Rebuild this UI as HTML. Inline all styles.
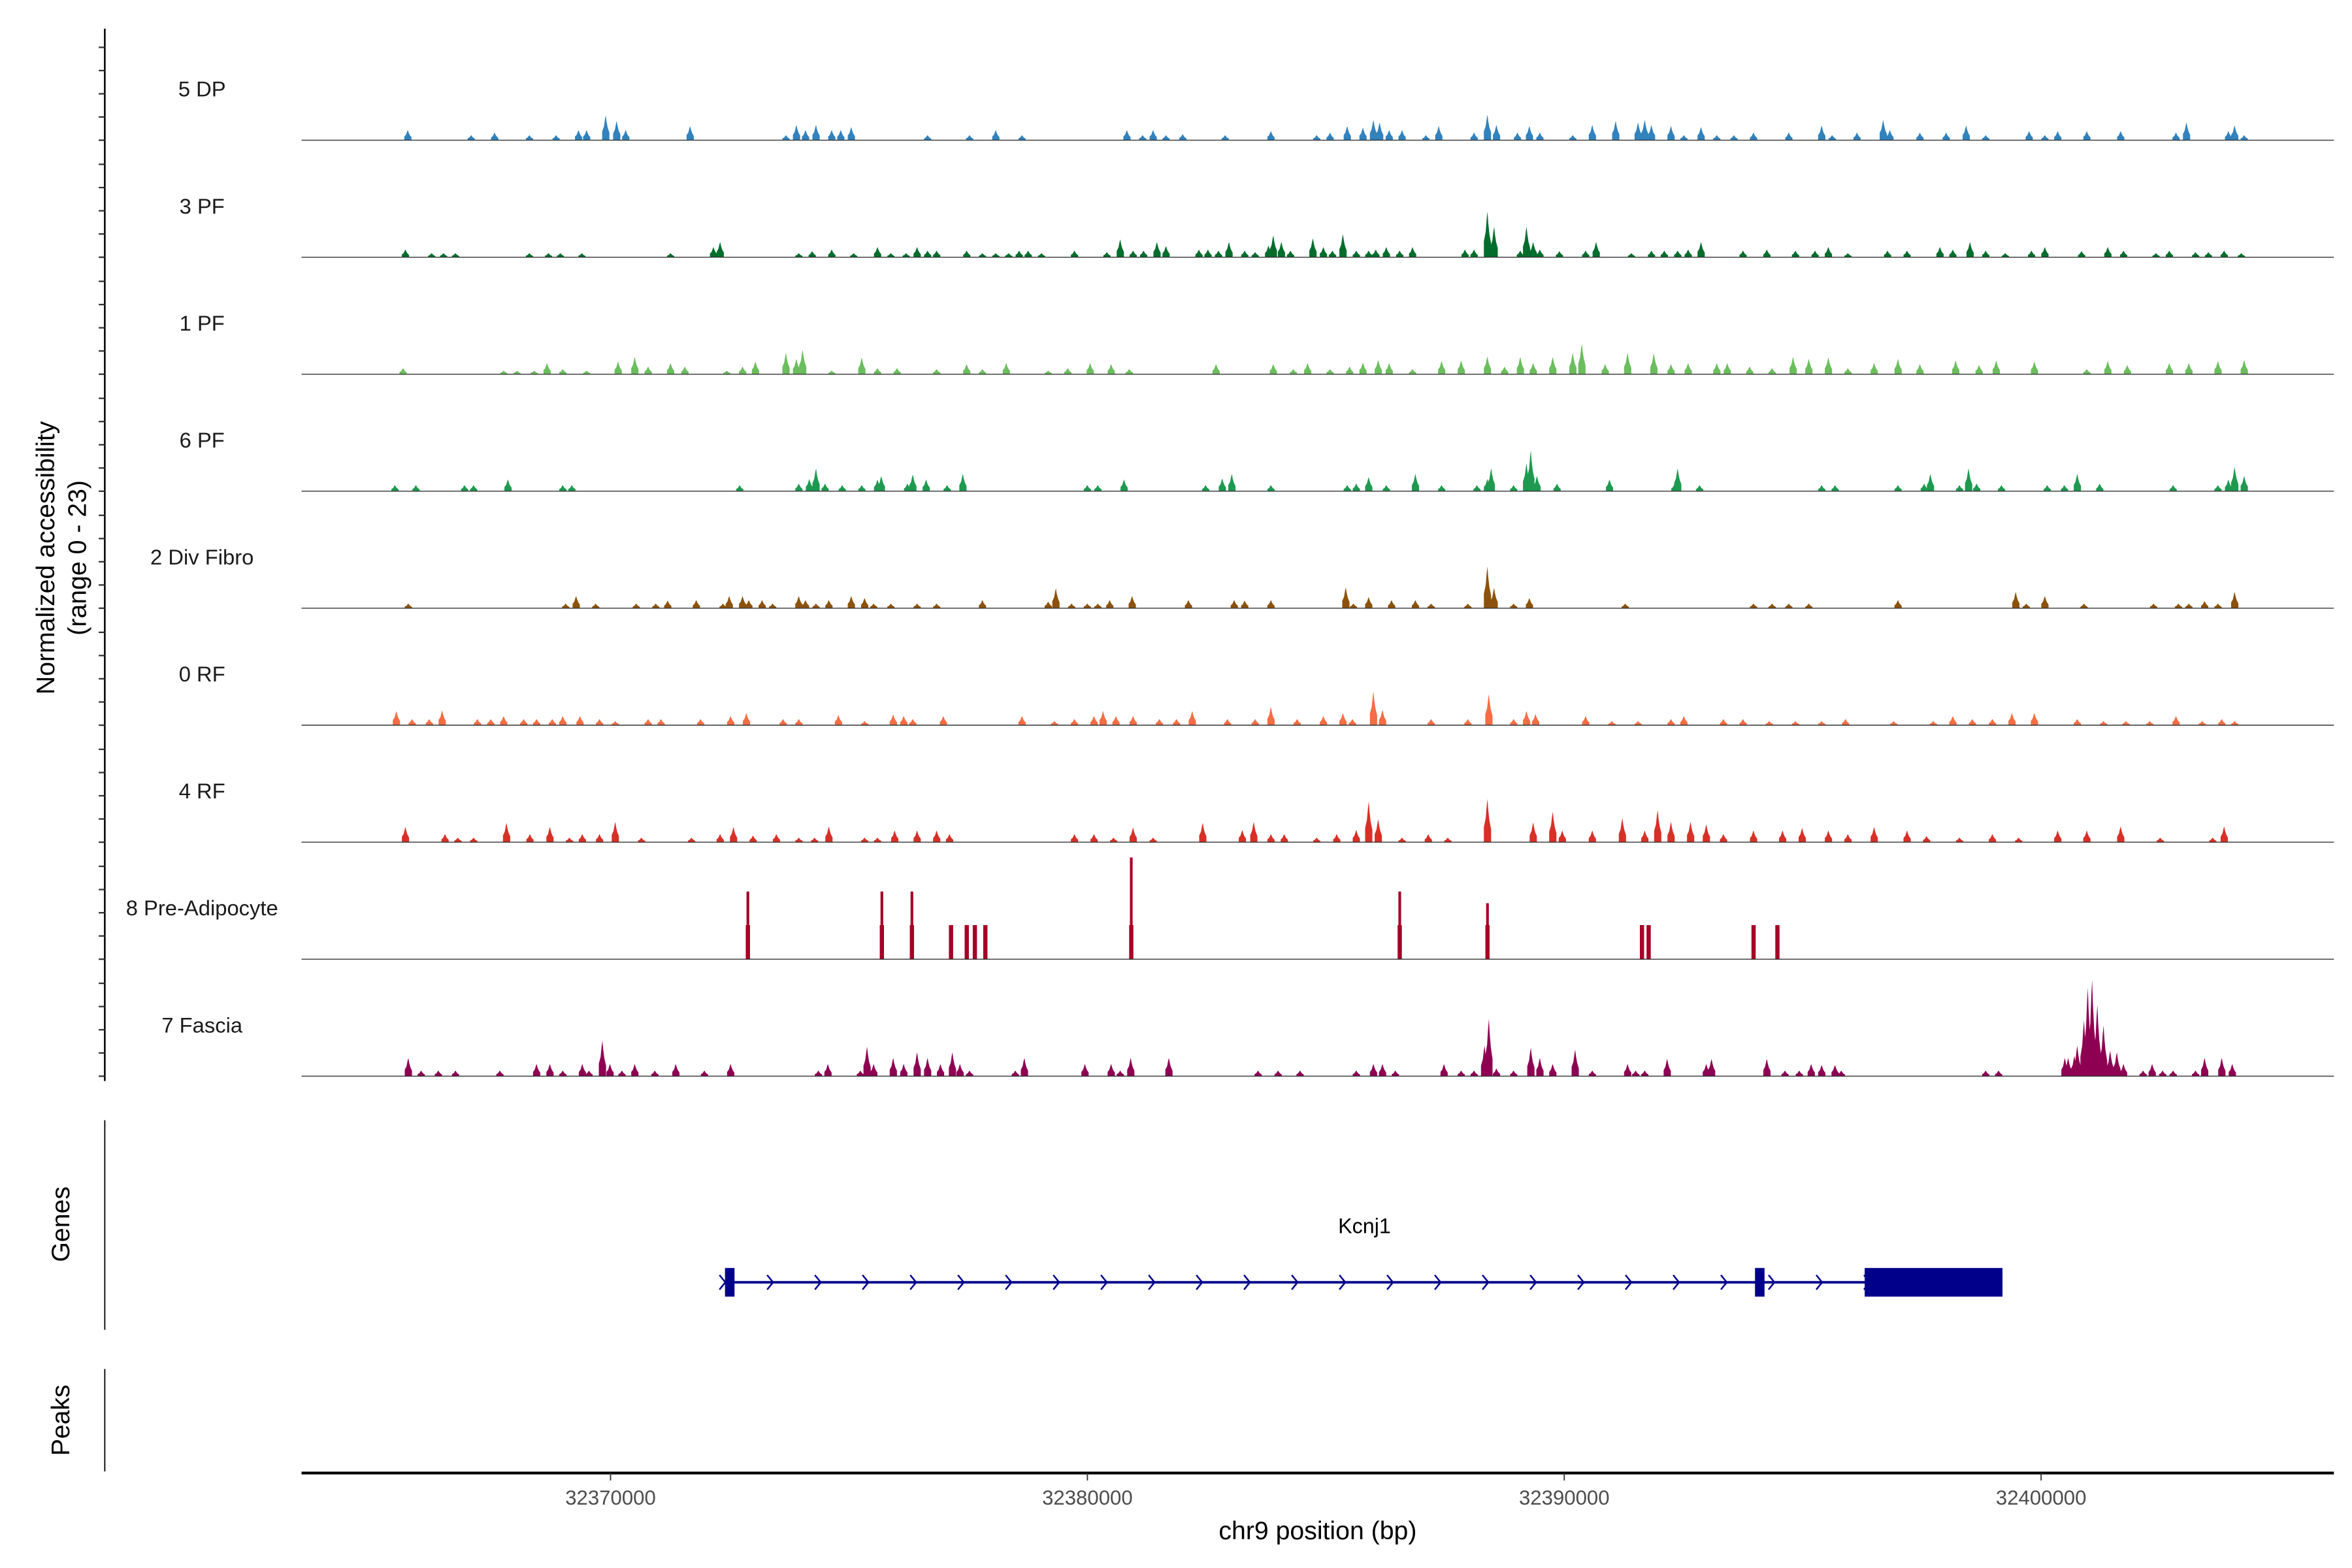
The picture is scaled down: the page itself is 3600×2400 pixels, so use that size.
<!DOCTYPE html>
<html><head><meta charset="utf-8"><style>
html,body{margin:0;padding:0;background:#fff;}
svg{display:block;}
text{font-family:"Liberation Sans",Arial,sans-serif;}
</style></head><body>
<svg id="chart" width="3600" height="2400" viewBox="0 0 1560 1040" xmlns="http://www.w3.org/2000/svg">
<g id="tracks"></g>
<g id="axes"></g>
<g id="genes"></g>
</svg>
<script>
// genomic positions in kb offset from 32360000, heights in normalized units (0-23)
const trackNames = ["5 DP","3 PF","1 PF","6 PF","2 Div Fibro","0 RF","4 RF","8 Pre-Adipocyte","7 Fascia"];
const trackColors = ["#3182bd","#006d2c","#6bbd5d","#1f9950","#8c510a","#f46d43","#d73027","#a50026","#8e0152"];
const xTicks = [32370000,32380000,32390000,32400000];
const xTickLabels = ["32370000","32380000","32390000","32400000"];
const geneStart = 12.47, geneEnd = 39.19;
const geneExons = [[12.4,12.6],[34.0,34.2],[36.3,39.19]];
const geneName = "Kcnj1";

const dp5 = [[5.75,2],[7.08,1],[7.57,1.5],[8.3,1],[8.86,1],[9.33,2],[9.5,2],[9.9,4.9],[10.13,3.8],[10.32,2],[11.67,2.8],[13.68,1],[13.9,3],[14.09,2],[14.31,3],[14.64,2],[14.83,2],[15.05,2.6],[16.65,1],[17.53,1],[18.08,2],[18.63,1],[20.83,2],[21.16,1],[21.38,2],[21.65,1],[22.0,1.2],[22.89,1],[23.85,1.8],[24.81,1],[25.09,1.5],[25.45,2.8],[25.78,2.5],[26.0,4],[26.13,3.5],[26.33,2],[26.6,2],[27.1,1],[27.37,2.8],[28.11,1.5],[28.39,5],[28.58,3],[29.02,1.5],[29.27,2.8],[29.49,1.5],[30.18,1],[30.59,3],[31.08,3.8],[31.55,3.5],[31.69,4],[31.83,3],[32.24,2.8],[32.51,1],[32.87,2.6],[33.2,1],[33.56,1],[33.97,1.5],[34.71,1.5],[35.4,2.9],[35.62,1],[36.14,1.5],[36.69,4],[36.83,2],[37.46,1.5],[38.01,1.5],[38.43,2.9],[38.84,1],[39.75,1.8],[40.08,1],[40.35,1.8],[40.96,1.8],[41.67,1.8],[42.83,1.5],[43.05,3.5],[43.93,1.8],[44.06,2.9],[44.26,1]];
const pf3 = [[5.7,1.5],[6.25,0.8],[6.5,0.8],[6.75,0.8],[8.3,0.8],[8.7,0.8],[8.95,0.8],[9.4,0.8],[11.26,0.8],[12.16,2],[12.3,3],[13.95,0.8],[14.23,1.2],[14.64,1.5],[15.1,0.8],[15.6,2],[15.88,0.8],[16.2,0.8],[16.43,2],[16.65,1.3],[16.84,1.3],[17.47,1.3],[17.8,0.8],[18.08,0.8],[18.35,0.8],[18.57,1.3],[18.76,1.3],[19.04,0.8],[19.73,1.3],[20.41,1],[20.69,3.5],[20.96,1.3],[21.18,1.3],[21.46,3],[21.65,2.2],[22.34,1.5],[22.53,1.5],[22.75,1.3],[22.97,3],[23.3,1.3],[23.52,1],[23.8,2.3],[23.9,4.3],[24.07,3],[24.26,1.3],[24.73,3.7],[24.95,2],[25.14,1.3],[25.36,4.5],[25.64,1.3],[25.9,1.3],[26.05,1.5],[26.27,2],[26.55,1.3],[26.82,2],[27.92,1.5],[28.11,1.5],[28.39,9],[28.53,6],[29.08,1.3],[29.21,6],[29.35,3],[29.49,1.5],[29.9,1.2],[30.45,1.3],[30.67,3],[31.41,0.8],[31.83,1.3],[32.1,1.3],[32.38,1.3],[32.6,1.5],[32.87,3],[33.75,1.3],[34.25,1.5],[34.85,1.3],[35.26,1.3],[35.54,2],[35.95,0.8],[36.78,1.3],[37.19,1.3],[37.88,2],[38.15,1.5],[38.51,3],[38.84,1.3],[39.25,0.8],[39.8,1.3],[40.08,2],[40.85,1.2],[41.4,2],[41.73,1.3],[42.41,0.8],[42.69,1.3],[43.24,1],[43.51,1],[43.84,1.3],[44.2,0.8]];
const pf1 = [[5.65,1.2],[7.76,0.7],[8.04,0.7],[8.4,0.7],[8.67,2.2],[9.0,1],[9.5,0.7],[10.16,2.5],[10.51,3.4],[10.79,1.5],[11.26,2.2],[11.56,1.5],[12.44,0.7],[12.77,1.5],[13.04,2.5],[13.68,4.2],[13.9,3],[14.03,4.8],[14.64,0.7],[15.27,3.3],[15.6,1.2],[16.01,1.2],[16.84,1],[17.47,2],[17.8,1],[18.3,2.2],[19.18,0.7],[19.59,1.2],[20.06,2.2],[20.5,2],[20.88,1],[22.7,2],[23.9,2],[24.32,1],[24.62,2.2],[25.09,1],[25.5,1.5],[25.78,2.3],[26.1,2.8],[26.33,2.2],[26.82,1],[27.43,2.6],[27.84,2.7],[28.39,3.5],[28.75,1.5],[29.08,3.4],[29.35,2.2],[29.76,3.4],[30.18,4.2],[30.37,6],[30.86,2],[31.33,4.2],[31.88,4.1],[32.24,2],[32.6,2.2],[33.2,2.2],[33.42,2.2],[33.89,1.5],[34.36,1.2],[34.8,3.4],[35.13,3],[35.54,3.3],[35.95,1.2],[36.5,2.2],[37.0,3],[37.46,2],[38.21,2.7],[38.7,1.8],[39.06,2.7],[39.86,2.5],[40.96,1],[41.4,2.6],[41.81,1.8],[42.69,2.2],[43.1,2.2],[43.71,2.6],[44.26,2.8]];
const pf6 = [[5.48,1.2],[5.92,1.2],[6.94,1.2],[7.13,1.2],[7.85,2.3],[9.0,1.2],[9.19,1.2],[12.71,1.2],[13.95,1.5],[14.17,2.4],[14.31,4.5],[14.5,1.5],[14.86,1.2],[15.27,1.2],[15.6,2.3],[15.68,3],[16.23,1.5],[16.34,3.3],[16.62,2.3],[17.06,1.2],[17.39,3.4],[20.0,1.2],[20.22,1.2],[20.77,2.3],[22.48,1.2],[22.83,2.5],[23.03,3.4],[23.85,1.2],[25.45,1.2],[25.64,1.5],[25.9,2.8],[26.27,1.2],[26.88,3.4],[27.43,1.2],[28.17,1.2],[28.39,2.4],[28.47,4.5],[28.94,1.2],[29.21,5.5],[29.3,8],[29.43,3],[29.85,1.5],[30.95,2.3],[32.32,1.5],[32.38,4.5],[32.84,1.2],[35.4,1.2],[35.68,1.2],[37.0,1.2],[37.55,1.5],[37.68,3.4],[38.29,1.2],[38.48,4.5],[38.65,1.5],[39.17,1.2],[40.13,1.2],[40.49,1.2],[40.76,3.4],[41.23,1.5],[42.77,1.2],[43.71,1.2],[43.93,2.3],[44.06,4.8],[44.26,3]];
const divFibro2 = [[5.76,0.9],[9.06,0.9],[9.28,2.4],[9.69,0.9],[10.54,0.9],[10.95,0.9],[11.2,1.5],[11.8,1.6],[12.36,0.9],[12.49,2.4],[12.77,2.4],[12.9,1.6],[13.18,1.6],[13.4,0.9],[13.95,2.4],[14.09,1.6],[14.31,0.9],[14.58,1.6],[15.05,2.4],[15.33,2],[15.52,0.9],[15.88,0.9],[16.43,0.9],[16.84,0.9],[17.8,1.6],[19.18,1.3],[19.34,3.9],[19.67,0.9],[20.0,0.9],[20.22,0.9],[20.47,1.6],[20.94,2.4],[22.12,1.6],[23.08,1.6],[23.3,1.5],[23.85,1.6],[25.42,4.1],[25.58,0.9],[25.9,2.2],[26.38,1.6],[26.88,1.6],[27.21,0.9],[27.98,0.9],[28.39,8.2],[28.53,4],[28.94,0.9],[29.27,2],[31.28,0.9],[33.97,0.9],[34.36,0.9],[34.71,0.9],[35.13,0.9],[37.0,1.6],[39.47,3.2],[39.69,0.9],[40.08,2.4],[40.9,0.9],[42.36,0.9],[42.88,0.9],[43.1,0.9],[43.43,1.4],[43.71,0.9],[44.06,3.2]];
const rf0 = [[5.51,2.8],[5.84,1.2],[6.2,1.2],[6.47,2.9],[7.21,1.2],[7.49,1.2],[7.76,1.8],[8.18,1.2],[8.45,1.2],[8.78,1.2],[9.0,1.8],[9.36,1.8],[9.77,1.2],[10.1,0.8],[10.79,1.2],[11.06,1.2],[11.89,1.2],[12.52,1.8],[12.85,2.4],[13.62,1.2],[13.95,1.2],[14.78,2],[15.33,0.8],[15.93,2.1],[16.15,1.8],[16.34,1.2],[16.98,1.8],[18.63,1.8],[19.31,0.8],[19.73,1.2],[20.14,1.8],[20.33,2.8],[20.6,1.8],[20.96,1.8],[21.51,1.2],[21.87,1.2],[22.2,2.8],[22.94,1.2],[23.52,1.2],[23.85,3.6],[24.4,1.2],[24.95,1.8],[25.36,2.4],[25.56,1.2],[26.0,6.6],[26.19,3],[27.21,1.2],[27.98,1.2],[28.42,6.1],[28.94,1.2],[29.21,2.8],[29.4,2.2],[30.45,1.8],[31.0,0.8],[31.55,0.8],[32.24,1.2],[32.51,1.8],[33.34,1.2],[33.75,1.2],[34.3,0.8],[34.85,0.8],[35.4,0.8],[35.9,1.2],[36.91,0.8],[37.74,0.8],[38.15,1.8],[38.56,1.2],[38.98,1.2],[39.39,2.4],[39.86,2.4],[40.76,1.2],[41.31,0.8],[41.78,0.8],[42.28,0.8],[42.83,1.8],[43.38,0.8],[43.79,1.2],[44.06,0.8]];
const rf4 = [[5.7,3],[6.53,1.6],[6.8,0.9],[7.13,0.9],[7.82,3.8],[8.31,1.6],[8.73,3],[9.14,0.9],[9.41,1.6],[9.77,1.6],[10.1,4],[10.65,0.9],[11.7,0.9],[12.3,1.6],[12.58,3],[12.99,1.3],[13.48,1.6],[13.95,0.9],[14.28,0.9],[14.58,3.1],[15.33,0.9],[15.6,0.9],[15.96,2.3],[16.43,2.3],[16.84,2.3],[17.11,1.6],[19.73,1.6],[20.14,1.6],[20.55,0.9],[20.96,2.9],[21.38,0.9],[22.42,3.8],[23.25,2.4],[23.49,4],[23.85,1.6],[24.13,1.6],[24.81,0.9],[25.23,1.6],[25.64,2.4],[25.9,8],[26.1,4.5],[26.6,0.9],[27.15,1.6],[27.56,0.9],[28.39,8.5],[29.35,3.9],[29.76,6],[29.96,2.3],[30.59,2.3],[31.22,4.7],[31.69,2.3],[31.96,6.3],[32.24,4],[32.65,4],[32.98,3.5],[33.34,1.6],[33.97,2.3],[34.58,2.3],[34.99,2.8],[35.54,2.3],[35.95,1.6],[36.5,3],[37.19,2.3],[37.6,1.2],[38.29,0.9],[38.98,1.6],[39.53,0.9],[40.35,2.3],[40.96,2.3],[41.67,3.1],[42.5,0.9],[43.6,0.9],[43.84,3.1]];
// [kb, block height, spike height]
const preAdipo8 = [[12.88,6.7,13.3],[15.69,6.7,13.3],[16.32,6.7,13.3],[17.14,6.7,6.7],[17.47,6.7,6.7],[17.64,6.7,6.7],[17.86,6.7,6.7],[20.92,6.7,20],[26.55,6.7,13.3],[28.39,6.7,11],[31.63,6.7,6.7],[31.77,6.7,6.7],[33.97,6.7,6.7],[34.47,6.7,6.7]];
const fascia7 = [[5.76,3.6],[6.03,1.1],[6.39,1.1],[6.75,1.1],[7.68,1.1],[8.45,2.4],[8.73,2.4],[9.0,1.1],[9.41,2.4],[9.55,1.1],[9.83,7],[9.99,2.4],[10.24,1.1],[10.51,2.4],[10.93,1.1],[11.37,2.4],[11.97,1.1],[12.52,2.4],[14.36,1.1],[14.56,2.4],[15.24,1.1],[15.38,5.8],[15.52,2.4],[15.93,3.6],[16.15,2.4],[16.43,4.7],[16.65,3.6],[16.92,2.4],[17.17,4.7],[17.33,2.4],[17.53,1.1],[18.49,1.1],[18.68,3.6],[19.95,2.4],[20.5,2.4],[20.69,1.1],[20.91,3.6],[21.71,3.6],[23.58,1.1],[24.0,1.1],[24.46,1.1],[25.64,1.1],[26.0,2.4],[26.19,2.4],[26.46,1.1],[27.48,2.4],[27.84,1.1],[28.11,1.1],[28.33,6],[28.42,11.3],[28.58,1.5],[28.94,1.1],[29.3,5.6],[29.49,3.6],[29.76,2.4],[30.23,5.2],[30.59,1.1],[31.33,2.4],[31.5,1.1],[31.69,1.1],[32.16,3.4],[32.98,2.4],[33.09,3.4],[34.25,3.4],[34.63,1.1],[34.93,1.1],[35.18,2.4],[35.4,2.2],[35.68,2.2],[35.81,1.1],[38.84,1.1],[39.11,1.1],[40.5,3.6],[40.57,3.6],[40.7,4],[40.76,6],[40.9,11],[40.98,17.4],[41.07,19],[41.18,14],[41.31,10],[41.45,5],[41.59,4.7],[41.73,2.4],[42.14,1.1],[42.33,2.4],[42.55,1.1],[42.77,1.1],[43.24,1.1],[43.43,3.6],[43.79,3.6],[44.01,2.4]];
const trackData = [dp5,pf3,pf1,pf6,divFibro2,rf0,rf4,preAdipo8,fascia7];

const NS = "http://www.w3.org/2000/svg";
const X0 = 200, X1 = 1548, KB0 = 3.52, KB1 = 46.14;
function xs(kb){ return X0 + (kb-KB0)/(KB1-KB0)*(X1-X0); }
function xbp(bp){ return xs((bp-32360000)/1000); }
const TRACK_H = 77.6, UNIT = TRACK_H/23;
function baseY(i){ return 93 + i*77.6; }
function ys(i,v){ return baseY(i) - v*UNIT; }
function mk(tag, attrs, parent){ const e=document.createElementNS(NS,tag); for(const k in attrs) e.setAttribute(k,attrs[k]); parent.appendChild(e); return e; }

const tracksG = document.getElementById('tracks');
const axesG = document.getElementById('axes');
const genesG = document.getElementById('genes');

trackNames.forEach((name,i)=>{
  const g = mk('g',{},tracksG);
  
  
  const lab = mk('text',{x:134,y:baseY(i)-29,'font-size':14.2,'text-anchor':'middle',fill:'#1a1a1a'},g);
  lab.textContent = name;
  
  
  const col = trackColors[i];
  const data = trackData[i];
  if (i === 7) {
    data.forEach(d=>{
      const x = xs(d[0]);
      const r = mk('rect',{x:x-1.4,y:ys(i,d[1]),width:2.8,height:d[1]*UNIT,fill:col},g);
      
      
      const s = mk('rect',{x:x-0.9,y:ys(i,d[2]),width:1.8,height:d[2]*UNIT,fill:col},g);
      
      
    });
  } else {
    data.forEach(d=>{
      const x = xs(d[0]), w = 2.4, b = baseY(i), top = ys(i,d[1]);
      const p = mk('polygon',{points:`${x-w},${b} ${x-w},${ys(i,d[1]*0.35)} ${x-1.2},${ys(i,d[1]*0.55)} ${x-0.5},${ys(i,d[1]*0.85)} ${x},${top} ${x+0.5},${ys(i,d[1]*0.75)} ${x+1.3},${ys(i,d[1]*0.5)} ${x+w},${ys(i,d[1]*0.3)} ${x+w},${b}`,fill:col},g);
      
      
    });
  }
  const bl = mk('line',{x1:X0,x2:X1,y1:baseY(i),y2:baseY(i),stroke:'#333',"stroke-width":0.6},g);
  
  
});

// left y axis of tracks
const ya = mk('line',{x1:69.5,x2:69.5,y1:19,y2:717,stroke:'#000','stroke-width':1.1},axesG);


for (let i=0;i<trackNames.length;i++){
  for (let k=0;k<5;k++){
    const y = baseY(i) - k*15.4;
    const t = mk('line',{x1:65.5,x2:69.5,y1:y,y2:y,stroke:'#333','stroke-width':1},axesG);
    
    
  }
}
const yt = mk('text',{transform:'translate(36,370) rotate(-90)','font-size':17,'text-anchor':'middle',fill:'#000'},axesG);
yt.textContent = 'Normalized accessibility';


const yt2 = mk('text',{transform:'translate(57,370) rotate(-90)','font-size':17,'text-anchor':'middle',fill:'#000'},axesG);
yt2.textContent = '(range 0 - 23)';



// genes panel
const ga = mk('line',{x1:69.5,x2:69.5,y1:743,y2:882,stroke:'#000','stroke-width':0.8},genesG);


const gt = mk('text',{transform:'translate(46,812) rotate(-90)','font-size':17,'text-anchor':'middle',fill:'#000'},genesG);
gt.textContent = 'Genes';


const gy = 850.5;
const gl = mk('line',{x1:xs(geneStart),x2:xs(geneEnd),y1:gy,y2:gy,stroke:'#00008b','stroke-width':1.7},genesG);


for (let kb = geneStart-0.1; kb < geneEnd; kb += 1.0) {
  const x = xs(kb);
  const c = mk('polyline',{points:`${x-2.7},${gy-4.8} ${x+1.2},${gy} ${x-2.7},${gy+4.8}`,fill:'none',stroke:'#00008b','stroke-width':1.1},genesG);
  
  
}
geneExons.forEach(e=>{
  const r = mk('rect',{x:xs(e[0]),y:841,width:Math.max(2.6,xs(e[1])-xs(e[0])),height:19,fill:'#00008b'},genesG);
  
  
});
const gn = mk('text',{x:905,y:818,'font-size':14,'text-anchor':'middle',fill:'#000'},genesG);
gn.textContent = geneName;



// peaks panel
const pa = mk('line',{x1:69.5,x2:69.5,y1:908,y2:976,stroke:'#000','stroke-width':0.8},axesG);


const pt = mk('text',{transform:'translate(46,942) rotate(-90)','font-size':17,'text-anchor':'middle',fill:'#000'},axesG);
pt.textContent = 'Peaks';



// x axis
const xa = mk('line',{x1:X0,x2:X1,y1:977,y2:977,stroke:'#000','stroke-width':1.8},axesG);


xTicks.forEach((v,i)=>{
  const x = xbp(v);
  const t = mk('line',{x1:x,x2:x,y1:977,y2:982,stroke:'#333','stroke-width':0.8},axesG);
  
  
  const l = mk('text',{x:x,y:998,'font-size':13.5,'text-anchor':'middle',fill:'#4d4d4d'},axesG);
  l.textContent = xTickLabels[i];
  
  
});
const xt = mk('text',{x:874,y:1021,'font-size':17,'text-anchor':'middle',fill:'#000'},axesG);
xt.textContent = 'chr9 position (bp)';


</script>
</body></html>
